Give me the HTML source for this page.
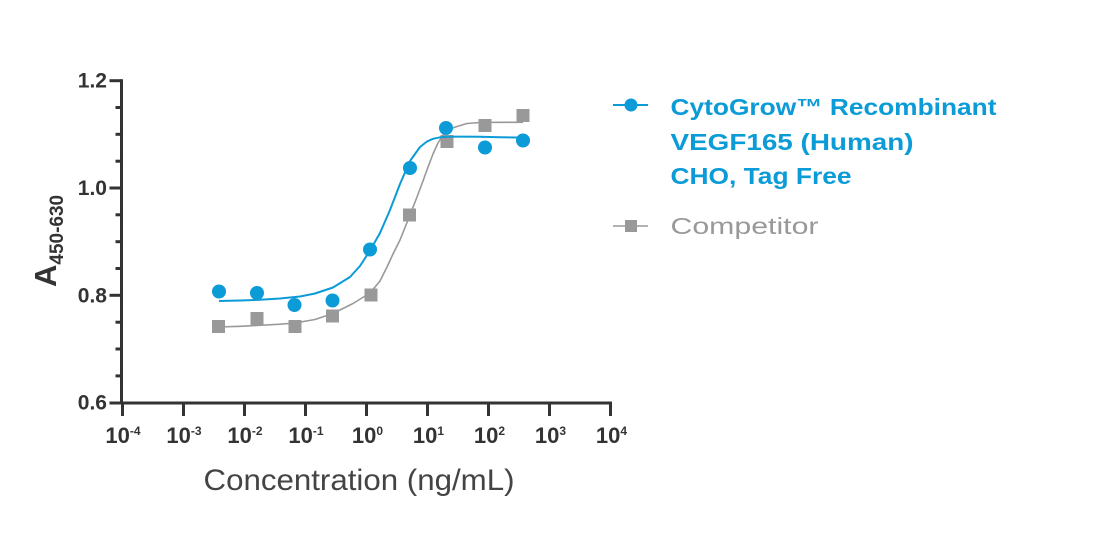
<!DOCTYPE html>
<html>
<head>
<meta charset="utf-8">
<style>
html,body{margin:0;padding:0;background:#fff;}
svg{display:block;}
</style>
</head>
<body>
<svg width="1104" height="534" viewBox="0 0 1104 534" xmlns="http://www.w3.org/2000/svg" font-family="'Liberation Sans', Arial, sans-serif">
<rect width="1104" height="534" fill="#fff"/>

<!-- Y axis -->
<g stroke="#333" stroke-width="3" fill="none">
  <line x1="121.5" y1="79.2" x2="121.5" y2="404.5"/>
  <!-- major ticks -->
  <line x1="109.5" y1="80.7" x2="121.5" y2="80.7"/>
  <line x1="109.5" y1="188" x2="121.5" y2="188"/>
  <line x1="109.5" y1="295.3" x2="121.5" y2="295.3"/>
  <!-- minor ticks -->
  <line x1="115.5" y1="107.5" x2="121.5" y2="107.5"/>
  <line x1="115.5" y1="134.3" x2="121.5" y2="134.3"/>
  <line x1="115.5" y1="161.2" x2="121.5" y2="161.2"/>
  <line x1="115.5" y1="214.8" x2="121.5" y2="214.8"/>
  <line x1="115.5" y1="241.7" x2="121.5" y2="241.7"/>
  <line x1="115.5" y1="268.5" x2="121.5" y2="268.5"/>
  <line x1="115.5" y1="322.2" x2="121.5" y2="322.2"/>
  <line x1="115.5" y1="349" x2="121.5" y2="349"/>
  <line x1="115.5" y1="375.9" x2="121.5" y2="375.9"/>
  <!-- X axis -->
  <line x1="109.5" y1="403" x2="612" y2="403"/>
  <line x1="122.5" y1="403" x2="122.5" y2="416"/>
  <line x1="183.5" y1="403" x2="183.5" y2="416"/>
  <line x1="244.5" y1="403" x2="244.5" y2="416"/>
  <line x1="305.5" y1="403" x2="305.5" y2="416"/>
  <line x1="366.5" y1="403" x2="366.5" y2="416"/>
  <line x1="427.5" y1="403" x2="427.5" y2="416"/>
  <line x1="488.5" y1="403" x2="488.5" y2="416"/>
  <line x1="549.5" y1="403" x2="549.5" y2="416"/>
  <line x1="610.5" y1="403" x2="610.5" y2="416"/>
</g>

<!-- Y tick labels -->
<g fill="#333" font-size="21" font-weight="bold" text-anchor="end">
  <text x="107" y="87.5">1.2</text>
  <text x="107" y="195">1.0</text>
  <text x="107" y="302.3">0.8</text>
  <text x="107" y="409.7">0.6</text>
</g>

<!-- X tick labels -->
<g fill="#333" font-size="22" font-weight="bold" text-anchor="middle">
  <text x="123" y="443">10<tspan font-size="12" dy="-8">-4</tspan></text>
  <text x="184" y="443">10<tspan font-size="12" dy="-8">-3</tspan></text>
  <text x="245" y="443">10<tspan font-size="12" dy="-8">-2</tspan></text>
  <text x="306" y="443">10<tspan font-size="12" dy="-8">-1</tspan></text>
  <text x="367.5" y="443">10<tspan font-size="12" dy="-8">0</tspan></text>
  <text x="428.5" y="443">10<tspan font-size="12" dy="-8">1</tspan></text>
  <text x="489.5" y="443">10<tspan font-size="12" dy="-8">2</tspan></text>
  <text x="550.5" y="443">10<tspan font-size="12" dy="-8">3</tspan></text>
  <text x="611.5" y="443">10<tspan font-size="12" dy="-8">4</tspan></text>
</g>

<!-- Axis titles -->
<text x="203.5" y="490" font-size="30" fill="#444" textLength="311" lengthAdjust="spacingAndGlyphs">Concentration (ng/mL)</text>
<text transform="translate(56,287) rotate(-90)" font-size="31" font-weight="bold" fill="#333">A<tspan font-size="19" dy="7">450-630</tspan></text>

<!-- Gray curve -->
<polyline fill="none" stroke="#999" stroke-width="1.6" stroke-linejoin="round" points="218,327 240,326.3 257,325.5 280,324.2 295,323 315,319.5 333,313.5 353,303.5 370,293 380,281 387,267 393,254 400,240 410,215 417,197 423,181 428,167 433,154 438,143 443,135 450,129 457,126.5 467,123.5 480,122.5 500,122.3 523,122.3"/>
<!-- Gray squares -->
<g fill="#999">
  <rect x="212" y="320" width="13" height="13"/>
  <rect x="250.5" y="312" width="13" height="13"/>
  <rect x="288.5" y="320" width="13" height="13"/>
  <rect x="326" y="309.5" width="13" height="13"/>
  <rect x="364.5" y="288.5" width="13" height="13"/>
  <rect x="403" y="208.5" width="13" height="13"/>
  <rect x="440.5" y="135" width="13" height="13"/>
  <rect x="478.5" y="119" width="13" height="13"/>
  <rect x="516.5" y="109" width="13" height="13"/>
</g>

<!-- Blue curve -->
<polyline fill="none" stroke="#0b9bd7" stroke-width="2" stroke-linejoin="round" points="219,301 240,300.5 260,299.8 280,298.5 300,296.5 315,293.5 333,287.5 350,277 360,266 370,250.5 380,233 390,210 400,184 410,161 420,147 427,141.5 433,138.8 440,137.3 447,136.7 460,136.6 480,136.8 500,137.2 523,137.6"/>
<!-- Blue circles -->
<g fill="#0b9bd7">
  <circle cx="219" cy="291.5" r="7"/>
  <circle cx="257" cy="293" r="7"/>
  <circle cx="294.5" cy="305" r="7"/>
  <circle cx="332.5" cy="300.5" r="7"/>
  <circle cx="370" cy="249.5" r="7"/>
  <circle cx="410" cy="168" r="7"/>
  <circle cx="446" cy="128" r="7"/>
  <circle cx="485" cy="147.5" r="7"/>
  <circle cx="523" cy="140.5" r="7"/>
</g>

<!-- Legend -->
<line x1="613" y1="105" x2="648" y2="105" stroke="#0b9bd7" stroke-width="2"/>
<circle cx="631" cy="105" r="6.5" fill="#0b9bd7"/>
<g fill="#0b9bd7" font-size="23.5" font-weight="bold">
  <text x="670.5" y="115" textLength="326" lengthAdjust="spacingAndGlyphs">CytoGrow™ Recombinant</text>
  <text x="670.5" y="150" textLength="243" lengthAdjust="spacingAndGlyphs">VEGF165 (Human)</text>
  <text x="670.5" y="184" textLength="181" lengthAdjust="spacingAndGlyphs">CHO, Tag Free</text>
</g>
<line x1="613" y1="226" x2="648" y2="226" stroke="#999" stroke-width="1.6"/>
<rect x="625" y="220" width="12" height="12" fill="#999"/>
<text x="670.5" y="234" font-size="23.5" fill="#999" textLength="148" lengthAdjust="spacingAndGlyphs">Competitor</text>
</svg>
</body>
</html>
